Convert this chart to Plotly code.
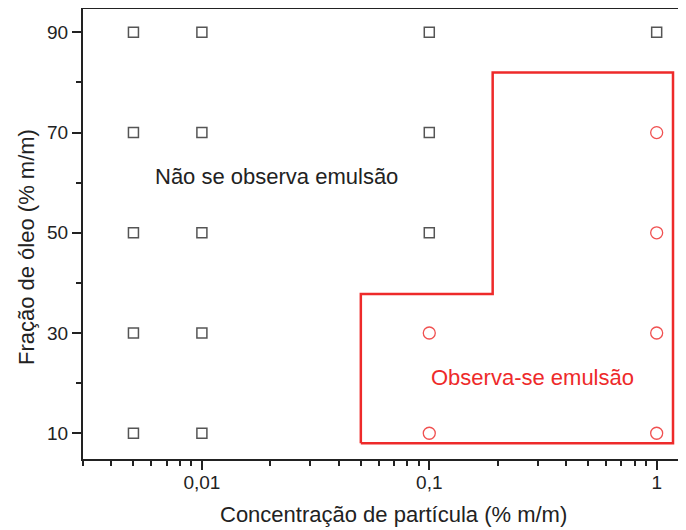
import plotly.graph_objects as go
import math

# Data
sq_x = [0.005]*5 + [0.01]*5 + [0.1]*3 + [1]
sq_y = [90, 70, 50, 30, 10] + [90, 70, 50, 30, 10] + [90, 70, 50] + [90]
circ_x = [0.1, 0.1, 1, 1, 1, 1]
circ_y = [10, 30, 10, 30, 50, 70]
region_x = [0.05, 0.05, 0.19, 0.19, 1.18, 1.18, 0.05]
region_y = [8, 37.8, 37.8, 82, 82, 8, 8]
xtick_vals = [0.01, 0.1, 1]
xtick_text = ["0,01", "0,1", "1"]
ytick_vals = [10, 30, 50, 70, 90]

FONT = "Liberation Sans, Arial, sans-serif"
INK = "#222222"

fig = go.Figure()
fig.add_trace(go.Scatter(x=region_x, y=region_y, mode="lines",
                         line=dict(color="#ee2a2a", width=2.5), hoverinfo="skip"))
fig.add_trace(go.Scatter(x=sq_x, y=sq_y, mode="markers",
                         marker=dict(symbol="square-open", size=10, color="#555555",
                                     line=dict(width=1.5))))
fig.add_trace(go.Scatter(x=circ_x, y=circ_y, mode="markers",
                         marker=dict(symbol="circle-open", size=12, color="#f05050",
                                     line=dict(width=1.3))))

fig.add_annotation(x=math.log10(0.0061), y=61.3, xref="x", yref="y", xanchor="left",
                   yanchor="middle", showarrow=False, text="Não se observa emulsão",
                   font=dict(family=FONT, size=22, color=INK))
fig.add_annotation(x=math.log10(0.1), y=21.1, xref="x", yref="y", xanchor="left",
                   yanchor="middle", showarrow=False, text="Observa-se emulsão",
                   font=dict(family=FONT, size=22, color="#ee2a2a"))

# axis titles
fig.add_annotation(x=0.515, y=-0.124, xref="paper", yref="paper", xanchor="center",
                   yanchor="middle", showarrow=False,
                   text="Concentração de partícula (% m/m)",
                   font=dict(family=FONT, size=22, color=INK))
fig.add_annotation(x=-0.0945, y=0.47, xref="paper", yref="paper", xanchor="center",
                   yanchor="middle", showarrow=False, textangle=-90,
                   text="Fração de óleo (% m/m)",
                   font=dict(family=FONT, size=22, color=INK))

# top border line
fig.add_shape(type="line", xref="paper", yref="paper", x0=0, x1=1, y0=1, y1=1,
              line=dict(color=INK, width=2))

minor_x = [m * 10**e for e in (-3, -2, -1, 0) for m in range(2, 10)]
minor_x = [v for v in minor_x if 0.003 <= v <= 1.34]

fig.update_xaxes(type="log", range=[math.log10(0.003), 0.129],
                 tickvals=xtick_vals, ticktext=xtick_text,
                 ticks="outside", ticklen=9, tickwidth=1.5, tickcolor=INK,
                 showline=True, linecolor=INK, linewidth=2,
                 showgrid=False, zeroline=False, ticklabelstandoff=-4,
                 minor=dict(tickvals=minor_x, ticks="outside", ticklen=5, tickwidth=1.5,
                            tickcolor=INK, showgrid=False),
                 tickfont=dict(family=FONT, size=19, color=INK))
fig.update_yaxes(range=[4.86, 94.86], tickvals=ytick_vals,
                 ticks="outside", ticklen=9, tickwidth=1.5, tickcolor=INK,
                 showline=True, linecolor=INK, linewidth=2,
                 showgrid=False, zeroline=False,
                 minor=dict(tickvals=[20, 40, 60, 80], ticks="outside", ticklen=5,
                            tickwidth=1.5, tickcolor=INK, showgrid=False),
                 tickfont=dict(family=FONT, size=19, color=INK))

# page body adds an 8px offset; figure sized to fill the rest of the window
fig.update_layout(width=678, height=522, showlegend=False,
                  plot_bgcolor="white", paper_bgcolor="white",
                  margin=dict(l=75, r=0, t=0, b=71))

fig.write_html("out.html")
